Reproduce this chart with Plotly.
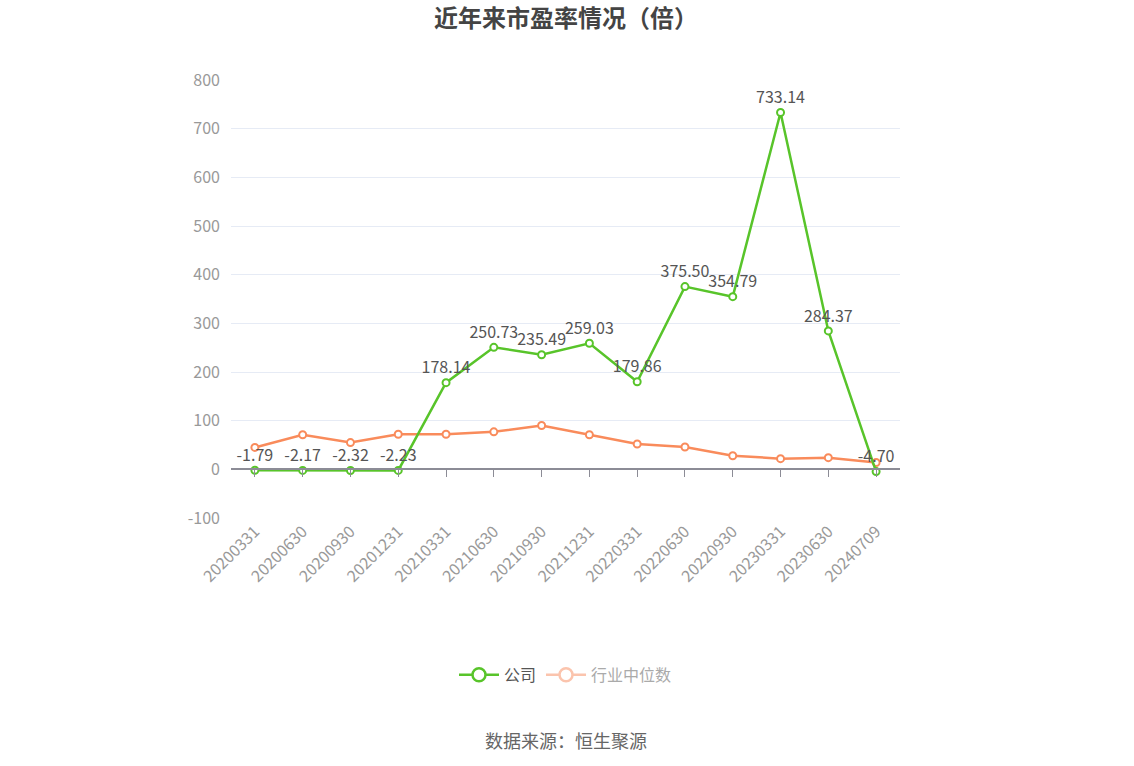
import plotly.graph_objects as go

categories = ["20200331", "20200630", "20200930", "20201231", "20210331", "20210630",
              "20210930", "20211231", "20220331", "20220630", "20220930", "20230331",
              "20230630", "20240709"]
company = [-1.79, -2.17, -2.32, -2.23, 178.14, 250.73, 235.49, 259.03, 179.86,
           375.50, 354.79, 733.14, 284.37, -4.70]
industry = [45, 71, 55, 72, 72, 77, 90, 71, 52, 46, 28, 22, 24, 14]
y_ticks = [-100, 0, 100, 200, 300, 400, 500, 600, 700, 800]
y_tick_labels = ["-100", "0", "100", "200", "300", "400", "500", "600", "700", "800"]

GREEN = "#58c42a"
ORANGE = "#f98b5b"
FONT = "Noto Sans CJK SC"

fig = go.Figure()

fig.add_trace(go.Scatter(
    x=categories, y=industry, mode="lines+markers", name="行业中位数",
    line=dict(color=ORANGE, width=2.5),
    marker=dict(symbol="circle", size=7, color="white", line=dict(color=ORANGE, width=2)),
    showlegend=False,
))
fig.add_trace(go.Scatter(
    x=categories, y=company, mode="lines+markers+text", name="公司",
    line=dict(color=GREEN, width=2.5),
    marker=dict(symbol="circle", size=7, color="white", line=dict(color=GREEN, width=2)),
    text=[f"{v:.2f}" for v in company], textposition="top center",
    textfont=dict(size=16, color="#555555", family=FONT),
    showlegend=False,
))
# legend entries
fig.add_trace(go.Scatter(
    x=[None], y=[None], mode="lines+markers", name="公司",
    line=dict(color=GREEN, width=2.5),
    marker=dict(symbol="circle", size=13, color="white", line=dict(color=GREEN, width=2.5)),
))
fig.add_trace(go.Scatter(
    x=[None], y=[None], mode="lines+markers",
    name="<span style='color:#aaaaaa'>行业中位数</span>",
    line=dict(color="#fbc4ad", width=2.5),
    marker=dict(symbol="circle", size=13, color="white", line=dict(color="#fbc4ad", width=2.5)),
))
# invisible trace to carry the zero-line axis
fig.add_trace(go.Scatter(x=categories, y=[0] * len(categories), xaxis="x2",
                         mode="markers", marker=dict(opacity=0), showlegend=False,
                         hoverinfo="skip"))

fig.update_layout(
    width=1134, height=766,
    paper_bgcolor="white", plot_bgcolor="white",
    margin=dict(l=231, r=234, t=80, b=248),
    font=dict(family=FONT, color="#999999", size=16),
    xaxis=dict(type="category", categoryarray=categories, range=[-0.5, 13.5],
               showgrid=False, showline=False, ticks="", tickangle=-45,
               tickfont=dict(size=16, color="#999999"), zeroline=False),
    xaxis2=dict(type="category", categoryarray=categories, range=[-0.5, 13.5],
                overlaying="x", anchor="free", position=100 / 900, showline=True,
                linecolor="#8c8c96", linewidth=2, ticks="outside", ticklen=7,
                tickcolor="#8c8c96", showticklabels=False, showgrid=False),
    yaxis=dict(range=[-100, 800], tickvals=y_ticks, ticktext=y_tick_labels,
               showgrid=True, gridcolor="#e6ebf5",
               zeroline=False, showline=False, ticks="", ticklabelstandoff=10,
               tickfont=dict(size=16, color="#999999")),
    legend=dict(orientation="h", x=0.5, xanchor="center", y=-0.358, yanchor="middle",
                font=dict(size=16, color="#555555", family=FONT), itemwidth=40),
    showlegend=True,
    annotations=[
        dict(text="<b>近年来市盈率情况（倍）</b>", xref="paper", yref="paper", x=0.5,
             y=1 + 64 / 438, xanchor="center", yanchor="middle", showarrow=False,
             font=dict(size=24, color="#444444", family=FONT)),
        dict(text="数据来源：恒生聚源", xref="paper", yref="paper", x=0.5, y=-0.507,
             xanchor="center", yanchor="middle", showarrow=False,
             font=dict(size=18, color="#666666", family=FONT)),
    ],
)

fig.write_html("out.html", config={"displayModeBar": False},
               post_script="document.body.style.margin='0';")
